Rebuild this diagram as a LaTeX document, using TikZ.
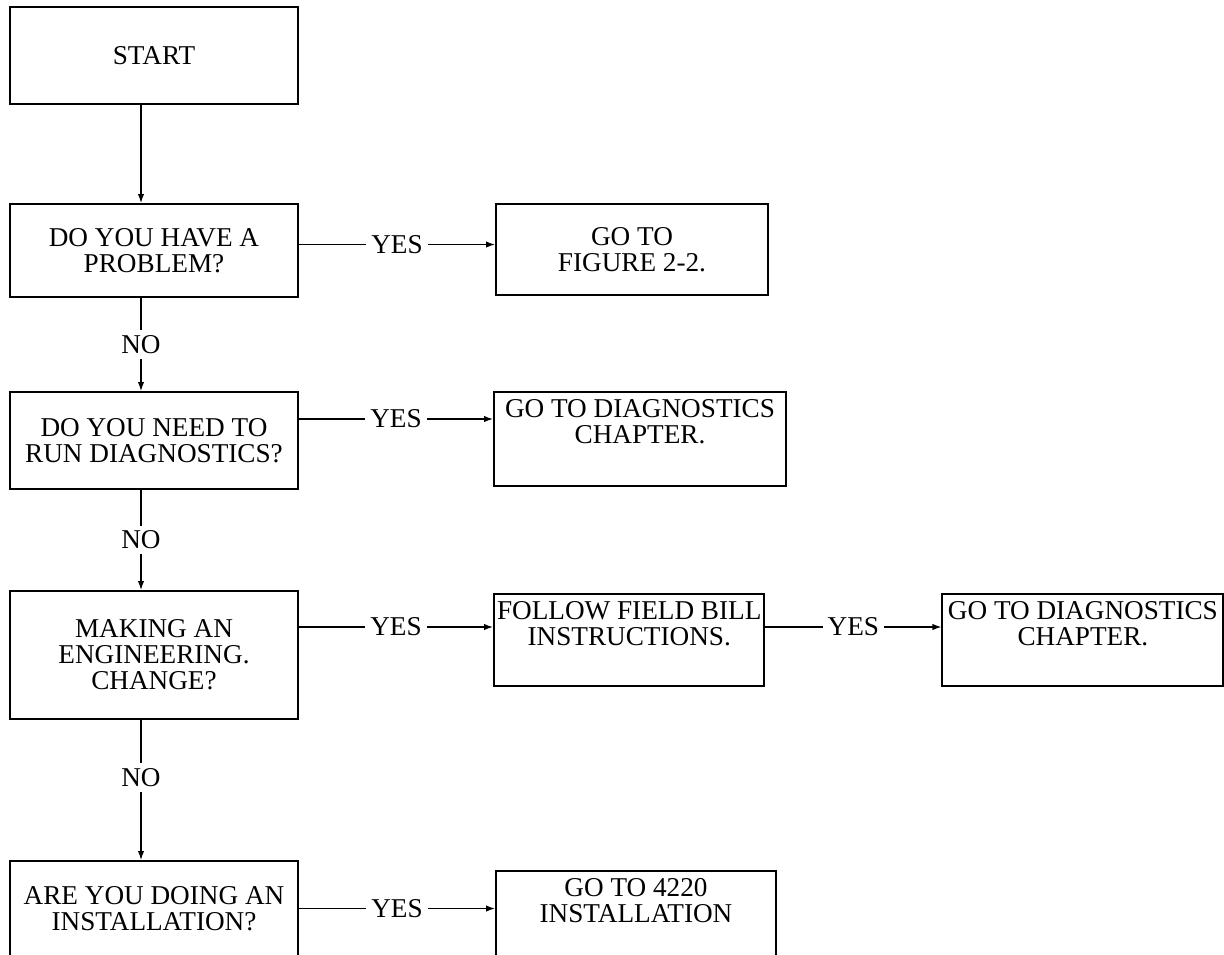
\documentclass[tikz,border=0pt]{standalone}
\usepackage{fontspec}
\setmainfont{Liberation Serif}
\usetikzlibrary{arrows.meta, positioning}

\begin{document}
\begin{tikzpicture}[
        >={Latex[length=4.5pt,width=3.2pt]},
        every node/.style={font=\fontsize{13.6}{13}\selectfont},
        block/.style={rectangle, draw, line width=1pt, align=center, minimum width=144pt},
        answer/.style={rectangle, draw, line width=1pt, align=center, inner xsep=1.5pt, inner ysep=3.5pt},
        arrow/.style={->, line width=0.6pt},
        tag/.style={fill=white, inner sep=2.5pt}
    ]
        \useasboundingbox (0,0) rectangle (612pt,-477pt);

        \node[block, minimum height=48.5pt] (start) at (77pt,-27.75pt) {START};
        \node[block, minimum height=46.5pt, below=49pt of start] (problem) {DO YOU HAVE A\\ PROBLEM?};
        \node[block, minimum height=48.5pt, below=46.5pt of problem] (diag) {DO YOU NEED TO\\ RUN DIAGNOSTICS?};
        \node[block, minimum height=64pt, below=50pt of diag] (change) {MAKING AN\\ ENGINEERING.\\ CHANGE?};
        \node[block, minimum height=47.5pt, below=70pt of change] (install) {ARE YOU DOING AN\\ INSTALLATION?};

        \node[answer, minimum width=136pt, minimum height=45.5pt, right=98pt of problem.north east, anchor=north west] (fig) {GO TO\\ FIGURE 2-2.};
        \node[answer, minimum width=146pt, right=97pt of diag.north east, anchor=north west] (diagch) {GO TO DIAGNOSTICS\\ CHAPTER.\\[5pt] \mbox{}};
        \node[answer, minimum width=134pt, right=97pt of change.north east, anchor=north west, yshift=-1.5pt] (field) {FOLLOW FIELD BILL\\ INSTRUCTIONS.\\[4pt] \mbox{}};
        \node[answer, minimum width=140.5pt, right=88pt of field.north east, anchor=north west] (diagch2) {GO TO DIAGNOSTICS\\ CHAPTER.\\[4pt] \mbox{}};
        \node[answer, minimum width=140pt, right=98pt of install.north east, anchor=north west, yshift=-5pt] (inst4220) {GO TO 4220\\ INSTALLATION\\[1.5pt] \mbox{}};

        \coordinate (row1) at ([yshift=3pt]problem.east);
        \coordinate (row2) at ([yshift=-14pt]diagch.north west);
        \coordinate (row3) at ([yshift=-17pt]field.north west);
        \coordinate (row3b) at ([yshift=-17pt]diagch2.north west);

        \draw[arrow] ([xshift=-6.5pt]start.south) -- ([xshift=-6.5pt]problem.north);
        \draw[arrow] ([xshift=-6.5pt]problem.south) -- node[tag]{NO} ([xshift=-6.5pt]diag.north);
        \draw[arrow] ([xshift=-6.5pt]diag.south) -- node[tag]{NO} ([xshift=-6.5pt]change.north);
        \draw[arrow] ([xshift=-6.5pt]change.south) -- node[tag, pos=0.41]{NO} ([xshift=-6.5pt]install.north);

        \draw[arrow] (row1) -- node[tag]{YES} (row1 -| fig.west);
        \draw[arrow] (diag.east |- row2) -- node[tag]{YES} (row2);
        \draw[arrow] (change.east |- row3) -- node[tag]{YES} (row3);
        \draw[arrow] (field.east |- row3b) -- node[tag]{YES} (row3b);
        \draw[arrow] (install.east) -- node[tag]{YES} (install.east -| inst4220.west);
    \end{tikzpicture}
\end{document}
